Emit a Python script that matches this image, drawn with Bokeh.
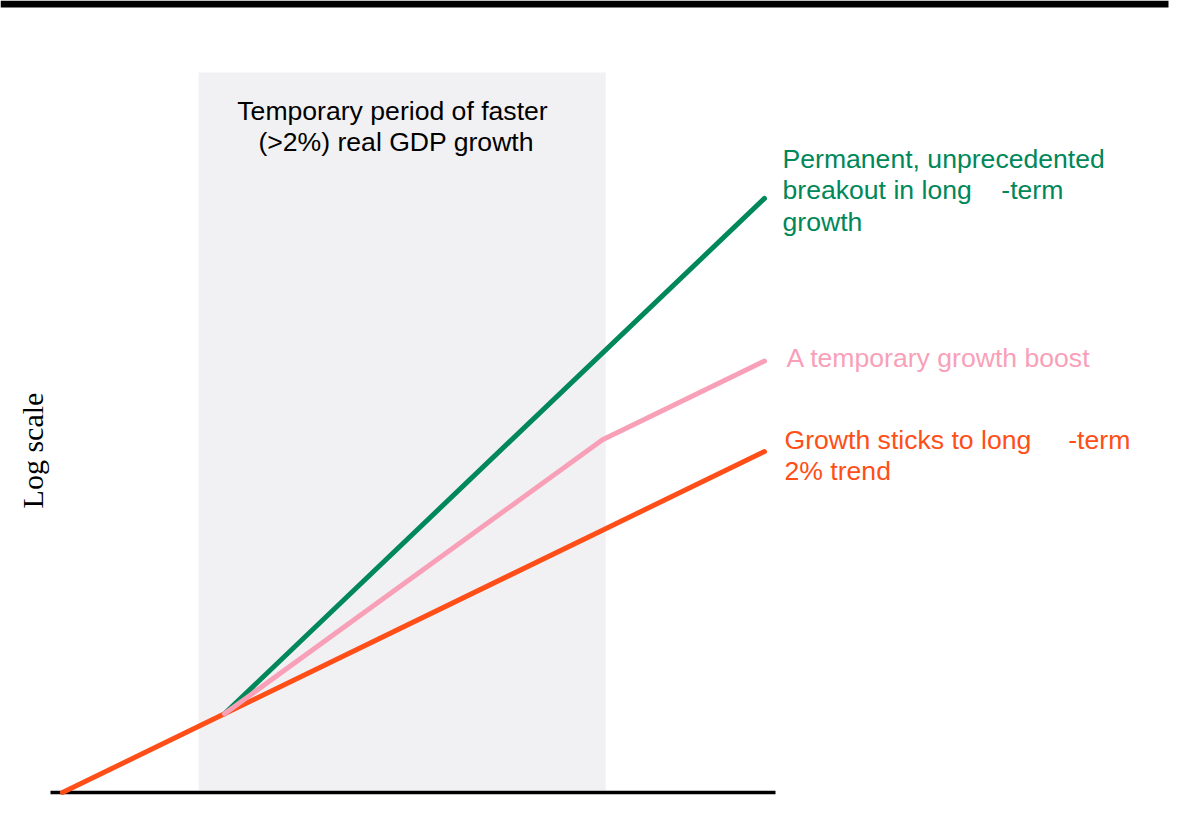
from bokeh.plotting import figure
from bokeh.models import Range1d
from bokeh.core.properties import value
from bokeh.embed import file_html
from bokeh.resources import INLINE
import math

# ---- data (time index, log level) ----
t_trend = [0, 3, 10, 13]
trend = [0, 6, 20, 26]            # steady 2% trend
t_boost = [3, 10, 13]
boost = [6, 26.9, 32.9]           # temporary faster growth, then back to 2%
t_breakout = [3, 13]
breakout = [6, 45.3]              # permanent breakout
boost_period = [2.52, 10.06]      # shaded period of faster growth
shade_top = [54.9]

NB = "\u00a0"
title_lines = ["Temporary period of faster", NB + "(>2%) real GDP growth"]
green_lines = ["Permanent, unprecedented", "breakout in long" + NB * 4 + "-term", "growth"]
pink_lines = ["A temporary growth boost"]
orange_lines = ["Growth sticks to long" + NB * 5 + "-term", "2% trend"]

GREEN = "#00875A"
PINK = "#F9A0B9"
ORANGE = "#FF4E17"
SHADE = "#F1F1F3"

# ---- layout scale (pixels per unit) ----
W, H = 1186, 834
PX_T, PX_Y = 54.0, 13.115
OX, OY = 62.0, 792.0

def xp(px):
    return (px - OX) / PX_T

def yp(py):
    return (OY - py) / PX_Y

p = figure(width=W, height=H, output_backend="svg", toolbar_location=None,
           x_range=Range1d(xp(0), xp(W)), y_range=Range1d(yp(H), yp(0)),
           x_axis_location=None, y_axis_location=None, min_border=0,
           background_fill_color="white", border_fill_color="white")
p.outline_line_color = None
p.xgrid.visible = False
p.ygrid.visible = False

# shaded period
p.quad(left=[boost_period[0]], right=[boost_period[1]], bottom=[yp(790)], top=shade_top,
       fill_color=SHADE, line_color=None)

# top rule
p.quad(left=[xp(0)], right=[xp(1168)], bottom=[yp(7)], top=[yp(0)],
       fill_color="black", line_color=None)

# baseline
p.line(x=[xp(50), xp(775)], y=[0, 0], line_color="black", line_width=3.5)

# series
p.line(x=t_breakout, y=breakout, line_color=GREEN, line_width=5, line_cap="round")
p.line(x=t_trend, y=trend, line_color=ORANGE, line_width=5, line_cap="round")
p.line(x=t_boost, y=boost, line_color=PINK, line_width=5, line_cap="round", line_join="round")

FONT = value("Liberation Sans")

def block(lines, x_px, base_px, color, step=31.5, align="left"):
    p.text(x=[xp(x_px)] * len(lines), y=[yp(base_px + i * step) for i in range(len(lines))],
           text=lines, text_color=color, text_font=FONT, text_font_size="26.6px",
           text_align=align, text_baseline="alphabetic")

block(title_lines, 392, 110, "black", step=31.7, align="center")
block(green_lines, 782, 158, GREEN)
block(pink_lines, 786, 357, PINK)
block(orange_lines, 784, 439, ORANGE)

p.text(x=[xp(32)], y=[yp(450)], text=["Log scale"], angle=math.pi / 2,
       text_font=value("Liberation Serif"), text_font_size="30px", text_color="black",
       text_align="center", text_baseline="alphabetic")

open("out.html", "w").write(file_html(p, INLINE))
